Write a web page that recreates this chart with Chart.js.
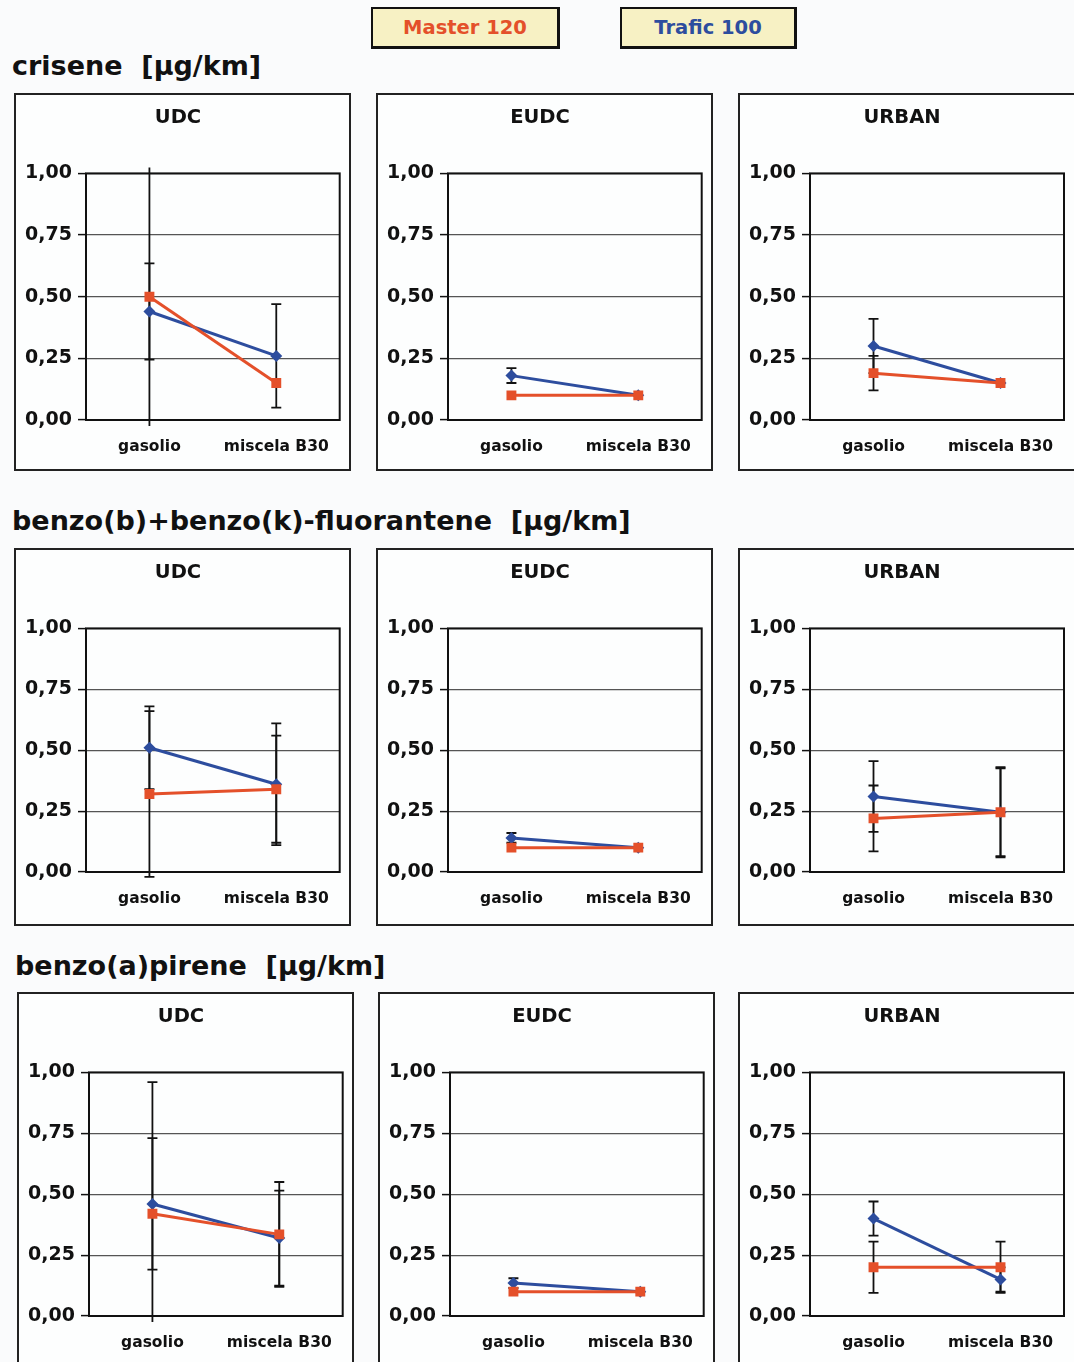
<!DOCTYPE html>
<html>
<head>
<meta charset="utf-8">
<script src="https://cdn.jsdelivr.net/npm/chart.js@4.4.1/dist/chart.umd.min.js"></script>
<style>
  body { margin: 0; width: 1074px; height: 1362px; overflow: hidden; position: relative;
         background: #fafbfc; font-family: "DejaVu Sans", sans-serif; color: #111; }
  .key { position: absolute; top: 7px; height: 37px; line-height: 37px; text-align: center;
         background: #f7f1c4; border: 2px solid #111; border-right-width: 3px; border-bottom-width: 3px;
         font-weight: bold; font-size: 19.5px; }
  .head { position: absolute; font-weight: bold; font-size: 27px; line-height: 32px; white-space: pre; }
  .panel { position: absolute; width: 333px; height: 374px; border: 2px solid #222; background: #fdfefe; }
  .panel div { position: relative; width: 100%; height: 100%; }
</style>
</head>
<body>
<div class="key" style="left:371px;width:184px;color:#e4502a">Master 120</div>
<div class="key" style="left:620px;width:172px;color:#2d4d9e">Trafic 100</div>

<script>
// panel grid: one row per compound, one column per driving cycle
var compounds = ['crisene  [µg/km]', 'benzo(b)+benzo(k)-fluorantene  [µg/km]', 'benzo(a)pirene  [µg/km]'];
var cycles = ['UDC', 'EUDC', 'URBAN'];
var fuels = ['gasolio', 'miscela B30'];
var yTicks = [0, 0.25, 0.5, 0.75, 1];

// values per cycle [UDC, EUDC, URBAN], each [gasolio, miscela B30]; err = +/- half width
var criseneMaster = [[0.50, 0.15], [0.10, 0.10], [0.19, 0.15]];
var criseneMasterErr = [[0.53, 0], [0, 0], [0.07, 0]];
var criseneTrafic = [[0.44, 0.26], [0.18, 0.10], [0.30, 0.15]];
var criseneTraficErr = [[0.195, 0.21], [0.03, 0], [0.11, 0]];

var benzoBKMaster = [[0.32, 0.34], [0.10, 0.10], [0.22, 0.245]];
var benzoBKMasterErr = [[0.34, 0.22], [0, 0], [0.135, 0.18]];
var benzoBKTrafic = [[0.51, 0.36], [0.14, 0.10], [0.31, 0.245]];
var benzoBKTraficErr = [[0.17, 0.25], [0.02, 0], [0.145, 0.185]];

var benzoAMaster = [[0.42, 0.335], [0.10, 0.10], [0.20, 0.20]];
var benzoAMasterErr = [[0.54, 0.215], [0, 0], [0.105, 0.105]];
var benzoATrafic = [[0.46, 0.32], [0.135, 0.10], [0.40, 0.15]];
var benzoATraficErr = [[0.27, 0.195], [0.02, 0], [0.07, 0.05]];

var master = [criseneMaster, benzoBKMaster, benzoAMaster];
var masterErr = [criseneMasterErr, benzoBKMasterErr, benzoAMasterErr];
var trafic = [criseneTrafic, benzoBKTrafic, benzoATrafic];
var traficErr = [criseneTraficErr, benzoBKTraficErr, benzoATraficErr];

var RED = '#e4502a', BLUE = '#2d4d9e';
var FONT = '"DejaVu Sans", sans-serif';

// layout of the page
var headTop = [50, 505, 950], headLeft = [12, 12, 15];
var rowTop = [93, 548, 992];
var colLeft = [[14, 376, 738], [14, 376, 738], [17, 378, 738]];
var xAxisH = [49, 52, 52];

// plot frame + error bars, drawn under the lines and markers
var errorBars = {
  id: 'errorBars',
  beforeDatasetsDraw: function(chart) {
    var ctx = chart.ctx, a = chart.chartArea, ys = chart.scales.y;
    ctx.save();
    ctx.strokeStyle = '#111';
    ctx.lineWidth = 2;
    ctx.strokeRect(a.left, a.top, a.right - a.left, a.bottom - a.top);
    ctx.beginPath();
    ctx.rect(a.left - 6, a.top - 6, a.right - a.left + 12, a.bottom - a.top + 12);
    ctx.clip();
    ctx.lineWidth = 1.8;
    chart.data.datasets.forEach(function(ds, i) {
      var meta = chart.getDatasetMeta(i);
      ds.err.forEach(function(e, j) {
        if (!e) return;
        var x = meta.data[j].x;
        var top = ys.getPixelForValue(ds.data[j] + e);
        var bot = ys.getPixelForValue(ds.data[j] - e);
        ctx.beginPath();
        ctx.moveTo(x, top); ctx.lineTo(x, bot);
        ctx.moveTo(x - 5, top); ctx.lineTo(x + 5, top);
        ctx.moveTo(x - 5, bot); ctx.lineTo(x + 5, bot);
        ctx.stroke();
      });
    });
    ctx.restore();
  }
};

compounds.forEach(function(name, r) {
  var h = document.createElement('div');
  h.className = 'head';
  h.style.top = headTop[r] + 'px';
  h.style.left = headLeft[r] + 'px';
  h.textContent = name;
  document.body.appendChild(h);

  cycles.forEach(function(cycle, c) {
    var p = document.createElement('div');
    p.className = 'panel';
    p.style.top = rowTop[r] + 'px';
    p.style.left = colLeft[r][c] + 'px';
    // last column runs off the right edge of the page
    var extra = c == 2 ? 8 : 0;
    p.style.width = (333 + extra) + 'px';
    var wrap = document.createElement('div');
    var cv = document.createElement('canvas');
    wrap.appendChild(cv);
    p.appendChild(wrap);
    document.body.appendChild(p);

    var xh = xAxisH[r];
    new Chart(cv, {
      type: 'line',
      data: {
        labels: fuels,
        datasets: [{
          label: 'Master 120',
          data: master[r][c],
          err: masterErr[r][c],
          borderColor: RED, backgroundColor: RED,
          borderWidth: 3, pointStyle: 'rect', pointRadius: 7, pointBorderWidth: 0,
          order: 0
        }, {
          label: 'Trafic 100',
          data: trafic[r][c],
          err: traficErr[r][c],
          borderColor: BLUE, backgroundColor: BLUE,
          borderWidth: 3, pointStyle: 'rectRot', pointRadius: 6, pointBorderWidth: 0,
          order: 1
        }]
      },
      options: {
        responsive: true,
        maintainAspectRatio: false,
        animation: false,
        layout: { padding: { left: 0, right: 9 + extra, top: 0, bottom: 0 } },
        plugins: {
          legend: { display: false },
          tooltip: { enabled: false },
          title: {
            display: true, text: cycle, color: '#111',
            font: { family: FONT, size: 19.5, weight: 'bold' },
            padding: { top: 11, bottom: 44 }
          }
        },
        scales: {
          x: {
            offset: true,
            grid: { display: false, drawTicks: false },
            border: { display: false },
            ticks: { color: '#111', padding: 18, font: { family: FONT, size: 15.5, weight: 'bold' } },
            afterFit: function(s) { s.height = xh; }
          },
          y: {
            min: 0, max: 1,
            afterBuildTicks: function(s) { s.ticks = yTicks.map(function(v) { return { value: v }; }); },
            ticks: {
              color: '#111', padding: 6,
              font: { family: FONT, size: 19, weight: 'bold' },
              callback: function(v) { return v.toFixed(2).replace('.', ','); }
            },
            grid: { color: '#555', lineWidth: 1.2, tickLength: 8, tickColor: '#111', tickWidth: 1.5 },
            border: { display: false },
            afterFit: function(s) { s.width = 70; }
          }
        }
      },
      plugins: [errorBars]
    });
  });
});
</script>
</body>
</html>
